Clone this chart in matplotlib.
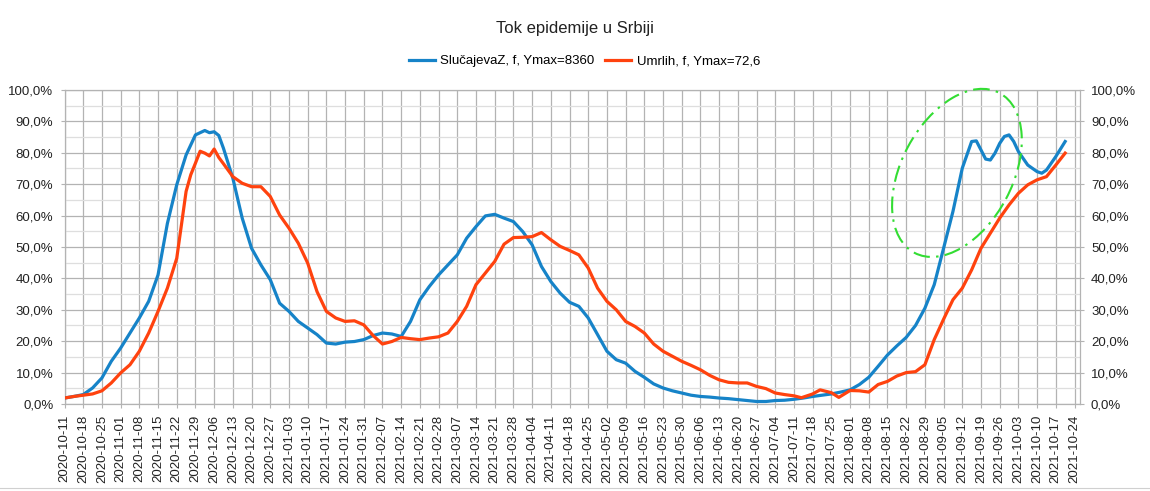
import numpy as np
import pandas as pd
import matplotlib
matplotlib.use("Agg")
import matplotlib.pyplot as plt
import matplotlib.dates as mdates
from matplotlib.patches import Ellipse
from matplotlib.transforms import ScaledTranslation
from matplotlib.lines import Line2D

plt.rcParams["font.family"] = ["Liberation Sans", "DejaVu Sans"]

START = np.datetime64("2020-10-11")

# values (position in weeks from START, share of Ymax in %)
cases_weeks = [0, 0.5, 1, 1.5, 2, 2.5, 3, 3.5, 4, 4.5, 5, 5.5, 6, 6.5, 7, 7.5, 7.75, 8, 8.25, 8.5,
               9, 9.5, 10, 10.5, 11, 11.5, 12, 12.5, 13, 13.5, 14, 14.5, 15, 15.5, 16, 16.5, 17,
               17.5, 18, 18.5, 19, 19.5, 20, 20.5, 21, 21.5, 22, 22.5, 23, 23.5, 24, 24.5, 25,
               25.5, 26, 26.5, 27, 27.5, 28, 28.5, 29, 29.5, 30, 30.5, 31, 31.5, 32, 32.5, 33,
               33.5, 34, 34.5, 35, 35.5, 36, 36.5, 37, 37.5, 38, 38.5, 39, 39.5, 40, 40.5, 41,
               41.5, 42, 42.5, 43, 43.5, 44, 44.5, 45, 45.5, 46, 46.5, 47, 47.5, 48, 48.5, 48.75,
               49, 49.25, 49.5, 49.75, 50, 50.25, 50.5, 50.75, 51, 51.5, 52, 52.25, 52.5, 53, 53.5]
cases_pct = [1.9, 2.4, 3.0, 5.1, 8.3, 13.6, 17.8, 22.6, 27.4, 32.7, 41.1, 57.5, 69.8, 79.3, 85.7,
             87.1, 86.4, 86.7, 85.5, 81.4, 71.9, 59.2, 49.6, 44.3, 39.6, 32.1, 29.5, 26.3, 24.2,
             22.1, 19.4, 19.1, 19.7, 19.9, 20.5, 21.8, 22.6, 22.3, 21.5, 26.3, 33.2, 37.4, 41.1,
             44.3, 47.5, 52.8, 56.5, 59.9, 60.4, 59.2, 58.1, 54.9, 50.7, 43.8, 39.0, 35.3, 32.4,
             31.1, 27.4, 22.1, 16.8, 14.1, 13.0, 10.4, 8.5, 6.4, 5.1, 4.2, 3.5, 2.8, 2.4, 2.2,
             1.9, 1.7, 1.4, 1.1, 0.8, 0.8, 1.1, 1.2, 1.5, 1.9, 2.4, 2.8, 3.2, 3.8, 4.5, 6.2, 8.5,
             12.0, 15.6, 18.5, 21.2, 25.0, 30.5, 38.0, 49.6, 61.3, 75.1, 83.6, 83.8, 80.9, 78.0,
             77.7, 79.9, 83.0, 85.2, 85.7, 83.6, 80.4, 76.1, 74.0, 73.5, 74.5, 78.8, 83.6]

deaths_weeks = [0, 0.5, 1, 1.5, 2, 2.5, 3, 3.5, 4, 4.5, 5, 5.5, 6, 6.25, 6.5, 6.75, 7, 7.25, 7.5,
                7.75, 8, 8.25, 8.5, 9, 9.5, 10, 10.5, 11, 11.5, 12, 12.5, 13, 13.5, 14, 14.5, 15,
                15.5, 16, 16.5, 17, 17.5, 18, 18.5, 19, 19.5, 20, 20.5, 21, 21.5, 22, 22.5, 23,
                23.5, 24, 24.5, 25, 25.5, 26, 26.5, 27, 27.5, 28, 28.5, 29, 29.5, 30, 30.5, 31,
                31.5, 32, 32.5, 33, 33.5, 34, 34.5, 35, 35.5, 36, 36.5, 37, 37.5, 38, 38.5, 39,
                39.4, 40, 40.4, 41, 41.4, 42, 42.5, 43, 43.5, 44, 44.5, 45, 45.5, 46, 46.5, 47,
                47.5, 48, 48.5, 49, 49.5, 50, 50.5, 51, 51.5, 52, 52.5, 53, 53.5]
deaths_pct = [1.9, 2.4, 2.8, 3.2, 4.2, 6.7, 9.9, 12.5, 16.8, 22.6, 29.5, 36.9, 46.4, 57.0, 67.7,
              73.0, 76.7, 80.5, 79.9, 79.0, 81.2, 78.5, 76.5, 72.4, 70.3, 69.2, 69.2, 66.1, 60.2,
              56.0, 51.2, 44.9, 35.8, 29.5, 27.4, 26.3, 26.5, 25.2, 21.8, 19.1, 19.9, 21.2, 20.8,
              20.5, 21.0, 21.4, 22.6, 26.3, 31.1, 38.0, 41.7, 45.4, 50.9, 53.0, 53.1, 53.3, 54.6,
              52.3, 50.2, 48.9, 47.5, 43.3, 36.9, 32.7, 30.0, 26.3, 24.7, 22.6, 19.1, 16.8, 15.2,
              13.6, 12.3, 10.9, 9.1, 7.7, 6.9, 6.7, 6.7, 5.6, 4.9, 3.5, 3.0, 2.6, 2.0, 3.2, 4.5,
              3.6, 2.1, 4.3, 4.2, 3.8, 6.2, 7.2, 8.9, 10.0, 10.3, 12.5, 20.5, 27.0, 33.2, 36.9,
              42.7, 49.6, 54.4, 59.2, 63.4, 67.1, 69.8, 71.4, 72.4, 76.1, 79.9]

CASES_LABEL = "SlučajevaZ, f, Ymax=8360"
DEATHS_LABEL = "Umrlih, f, Ymax=72,6"
TITLE = "Tok epidemije u Srbiji"

BLUE = "#1683c8"
RED = "#ff420e"
GRID = "#b3b3b3"


def to_dates(weeks):
    hours = np.round(np.array(weeks) * 7 * 24).astype(int)
    return START + hours.astype("timedelta64[h]")


def pct_fmt(v, _pos):
    return f"{v:.1f}%".replace(".", ",")


def main():
    fig = plt.figure(figsize=(11.5, 4.91), dpi=100)
    ax = fig.add_axes([0.0561, 0.1772, 0.8829, 0.6395])

    ax.plot(to_dates(cases_weeks), cases_pct, color=BLUE, lw=2.3, label=CASES_LABEL,
            solid_joinstyle="round", zorder=3)
    ax.plot(to_dates(deaths_weeks), deaths_pct, color=RED, lw=2.3, label=DEATHS_LABEL,
            solid_joinstyle="round", zorder=3)

    ticks = pd.date_range("2020-10-11", "2021-10-24", freq="7D")
    ax.set_xticks(ticks)
    ax.xaxis.set_major_formatter(mdates.DateFormatter("%Y-%m-%d"))
    ax.set_xlim(START, START + np.timedelta64(380, "D"))
    ax.set_ylim(0, 100)
    ax.set_yticks(np.arange(0, 101, 10))
    ax.set_yticks(np.arange(5, 100, 10), minor=True)
    ax.yaxis.set_major_formatter(pct_fmt)

    ax.grid(True, which="major", color=GRID, lw=0.9, zorder=0)
    ax.grid(True, which="minor", axis="y", color="#dedede", lw=0.9, zorder=0)
    ax.set_axisbelow(True)

    ax.tick_params(axis="x", labelrotation=90, labelsize=9.5, length=3, width=0.8,
                   color=GRID, pad=5, labelcolor="#222222")
    ax.tick_params(axis="y", which="major", labelsize=9.5, length=3, width=0.8,
                   color=GRID, pad=5, labelcolor="#222222")
    ax.tick_params(axis="y", which="minor", length=0)
    for s in ax.spines.values():
        s.set_color(GRID)
        s.set_linewidth(0.9)

    ax2 = ax.twinx()
    ax2.set_ylim(ax.get_ylim())
    ax2.set_yticks(np.arange(0, 101, 10))
    ax2.yaxis.set_major_formatter(pct_fmt)
    ax2.tick_params(axis="y", labelsize=9.5, length=3, width=0.8, color=GRID, pad=5,
                    labelcolor="#222222")
    for s in ax2.spines.values():
        s.set_visible(False)

    # green dash-dot highlight around the autumn 2021 wave
    anchor = ScaledTranslation(mdates.date2num(START + np.timedelta64(334, "D")), 73.6,
                               ax.transData)
    ring = Ellipse((0, 0), width=1.81, height=1.11, angle=62, fill=False,
                   edgecolor="#33dd33", lw=1.5, linestyle=(0, (8, 3, 1.2, 3)),
                   transform=fig.dpi_scale_trans + anchor, clip_on=False, zorder=4)
    ax.add_patch(ring)

    ax.legend(loc="center", bbox_to_anchor=(0.512, 1.092), ncol=2, frameon=False,
              fontsize=9.5, handlelength=2.0, handletextpad=0.4, columnspacing=0.8)

    fig.text(0.5, 1 - 28 / 491, TITLE, ha="center", va="center", fontsize=12,
             color="#222222")
    fig.add_artist(Line2D([0, 1], [0.006, 0.006], color="#d0d0d0", lw=0.8))

    fig.savefig("out.png", dpi=100)
    plt.close(fig)


if __name__ == "__main__":
    main()
